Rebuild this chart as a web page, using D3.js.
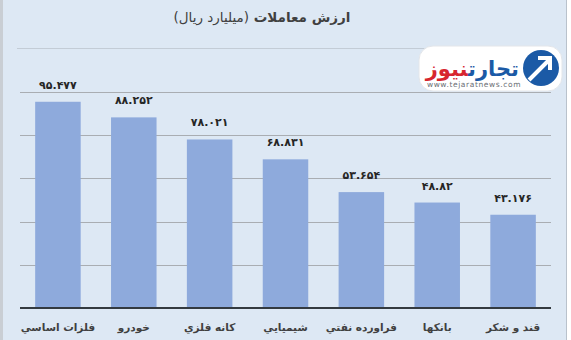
<!DOCTYPE html>
<html>
<head>
<meta charset="utf-8">
<script src="https://cdn.jsdelivr.net/npm/d3@7"></script>
<style>
  body { margin: 0; background: #fff; }
  svg { display: block; font-family: "DejaVu Sans", "Noto Sans", sans-serif; }
</style>
</head>
<body>
<script>
// data
var categories = ["فلزات اساسي", "خودرو", "کانه فلزي", "شيميايي", "فراورده نفتي", "بانکها", "قند و شکر"];
var values = [95.477, 88.252, 78.021, 68.831, 53.654, 48.82, 43.176];
var yTicks = [0, 20, 40, 60, 80, 100];
var titleBold = "ارزش معاملات";
var titleUnit = "(ميليارد ريال)";

var width = 571, height = 340;

function faDigits(s) {
    return String(s).replace(/[0-9]/g, function (d) { return "۰۱۲۳۴۵۶۷۸۹"[+d]; });
}

var svg = d3.select("body").append("svg")
    .attr("width", width)
    .attr("height", height);

// panel
svg.append("rect").attr("x", 0).attr("y", 0).attr("width", width).attr("height", height).attr("fill", "#ffffff");
svg.append("rect").attr("x", 0).attr("y", 0).attr("width", 3).attr("height", height).attr("fill", "#c9ced4");
svg.append("rect").attr("x", 3).attr("y", 0).attr("width", 563).attr("height", height).attr("fill", "#dde8f4");
svg.append("rect").attr("x", 566).attr("y", 0).attr("width", 1).attr("height", height).attr("fill", "#b9c2cc");

// title
var title = svg.append("text")
    .attr("x", 262)
    .attr("y", 22)
    .attr("text-anchor", "middle")
    .attr("direction", "rtl")
    .attr("fill", "#404040")
    .style("font-size", "13.5px");
title.append("tspan").attr("font-weight", "bold").text(titleBold + "  ");
title.append("tspan").text(titleUnit);

svg.append("line")
    .attr("x1", 17).attr("x2", 555)
    .attr("y1", 48.5).attr("y2", 48.5)
    .attr("stroke", "#c3ccd6");

var x = d3.scaleBand()
    .domain(categories)
    .range([20, 551])
    .paddingInner(0.4)
    .paddingOuter(0.2);

var y = d3.scaleLinear()
    .domain([0, 100])
    .range([308, 92]);

var g = svg.append("g");

g.selectAll(".grid")
    .data(yTicks.slice(1))
    .enter()
    .append("line")
    .attr("class", "grid")
    .attr("x1", 20).attr("x2", 551)
    .attr("y1", function (d) { return Math.round(y(d)) + 0.5; })
    .attr("y2", function (d) { return Math.round(y(d)) + 0.5; })
    .attr("stroke", "#a9adb2")
    .attr("stroke-width", 1);

var data = categories.map(function (c, i) { return { name: c, value: values[i] }; });

g.selectAll(".bar")
    .data(data)
    .enter()
    .append("rect")
    .attr("class", "bar")
    .attr("x", function (d) { return x(d.name); })
    .attr("width", x.bandwidth())
    .attr("y", function (d) { return y(d.value); })
    .attr("height", function (d) { return y(0) - y(d.value); })
    .attr("fill", "#8eaadc");

g.append("line")
    .attr("x1", 20).attr("x2", 551)
    .attr("y1", y(0)).attr("y2", y(0))
    .attr("stroke", "#333a40")
    .attr("stroke-width", 2);

g.selectAll(".val")
    .data(data)
    .enter()
    .append("text")
    .attr("class", "val")
    .attr("x", function (d) { return x(d.name) + x.bandwidth() / 2; })
    .attr("y", function (d) { return y(d.value) - 13; })
    .attr("text-anchor", "middle")
    .attr("fill", "#262626")
    .attr("font-weight", "bold")
    .style("font-size", "11px")
    .text(function (d) { return faDigits(d.value); });

g.selectAll(".cat")
    .data(data)
    .enter()
    .append("text")
    .attr("class", "cat")
    .attr("x", function (d) { return x(d.name) + x.bandwidth() / 2; })
    .attr("y", 331)
    .attr("text-anchor", "middle")
    .attr("direction", "rtl")
    .attr("fill", "#404040")
    .attr("font-weight", "bold")
    .style("font-size", "10.5px")
    .text(function (d) { return d.name; });

// logo
var logo = svg.append("g");
logo.append("rect")
    .attr("x", 419).attr("y", 46).attr("width", 143).attr("height", 45)
    .attr("rx", 14)
    .attr("fill", "#ffffff")
    .attr("stroke", "#e3e6ea");
logo.append("circle").attr("cx", 541).attr("cy", 68).attr("r", 18).attr("fill", "#1b5aa6");
logo.append("path")
    .attr("d", "M529,80 L549,60 M538,58 L550,58 L550,70")
    .attr("stroke", "#ffffff").attr("stroke-width", 4).attr("fill", "none");
var lt = logo.append("text")
    .attr("x", 519).attr("y", 76)
    .attr("text-anchor", "start")
    .attr("direction", "rtl")
    .attr("font-weight", "bold")
    .style("font-size", "21px");
lt.append("tspan").attr("fill", "#1b5aa6").text("تجارت");
lt.append("tspan").attr("fill", "#d7262f").text("نیوز");
logo.append("text")
    .attr("x", 474).attr("y", 87)
    .attr("text-anchor", "middle")
    .attr("fill", "#6b6f75")
    .style("font-size", "7.5px")
    .style("letter-spacing", "0.6px")
    .text("www.tejaratnews.com");
</script>
</body>
</html>
